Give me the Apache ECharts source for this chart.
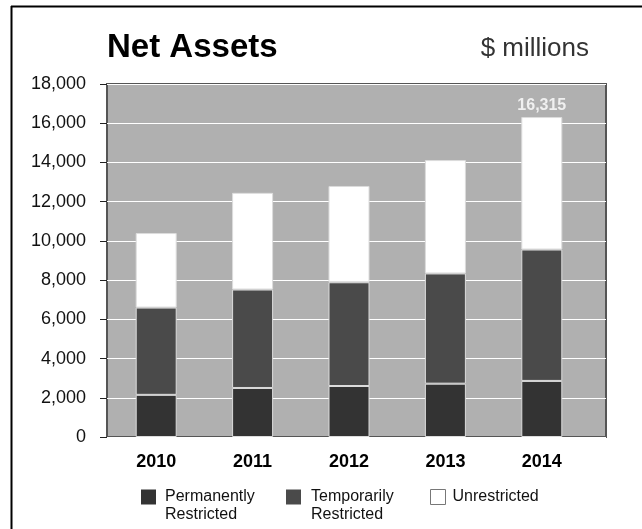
<!DOCTYPE html>
<html>
<head>
<meta charset="utf-8">
<script src="https://cdn.jsdelivr.net/npm/echarts@6/dist/echarts.min.js"></script>
<style>
  html, body { margin: 0; padding: 0; background: #fff; }
  #chart { width: 642px; height: 529px; }
</style>
</head>
<body>
<div id="chart"></div>
<script>
// Net assets by restriction class, $ millions
var years = ['2010', '2011', '2012', '2013', '2014'];
var permanentlyRestricted = [2150, 2500, 2600, 2720, 2860];
var temporarilyRestricted = [4450, 5020, 5290, 5620, 6700];
var unrestricted = [3800, 4930, 4910, 5780, 6755];
var yTicks = [0, 2000, 4000, 6000, 8000, 10000, 12000, 14000, 16000, 18000];
var labelledYear = '2014';

var FONT = '"Liberation Sans", Arial, Helvetica, sans-serif';

function totalFor(i) {
  return permanentlyRestricted[i] + temporarilyRestricted[i] + unrestricted[i];
}
function fmt(v) {
  return v.toString().replace(/\B(?=(\d{3})+(?!\d))/g, ',');
}

var chart = echarts.init(document.getElementById('chart'), null, { renderer: 'canvas' });

var barBorder = { borderColor: '#dcdcdc', borderWidth: 1 };

var legendText = {
  fontFamily: FONT,
  fontSize: 16,
  color: '#111',
  lineHeight: 18
};

// two-line legend names: a leading blank line keeps the first line level with the swatch
function firstLineOnSwatch(name) { return '\n' + name; }

var option = {
  animation: false,
  backgroundColor: '#fff',
  title: [
    {
      text: 'Net Assets',
      left: 107, top: 31, padding: 0,
      textStyle: { fontFamily: FONT, fontSize: 33, fontWeight: 'bold', color: '#000', lineHeight: 33 }
    },
    {
      text: '$ millions',
      right: 53, top: 36, padding: 0,
      textStyle: { fontFamily: FONT, fontSize: 26, fontWeight: 'normal', color: '#333', lineHeight: 26 }
    }
  ],
  graphic: [
    { type: 'line', shape: { x1: 11, y1: 6.5, x2: 642, y2: 6.5 }, style: { stroke: '#000', lineWidth: 2 } },
    { type: 'line', shape: { x1: 11.5, y1: 6, x2: 11.5, y2: 529 }, style: { stroke: '#000', lineWidth: 2 } }
  ],
  grid: [
    { left: 107, top: 84, width: 499, height: 353, show: true, backgroundColor: '#b0b0b0', borderColor: '#555', borderWidth: 2 },
    { left: 108, top: 84, width: 482, height: 353 }
  ],
  xAxis: [
    { type: 'value', gridIndex: 0, show: false, min: 0, max: 1 },
    {
      type: 'category', gridIndex: 1, data: years,
      axisLine: { show: false }, axisTick: { show: false },
      axisLabel: { fontFamily: FONT, fontSize: 18, fontWeight: 'bold', color: '#000', margin: 16 }
    }
  ],
  yAxis: [
    {
      type: 'value', gridIndex: 0, min: 0, max: 18000, interval: 2000,
      offset: 4,
      axisLine: { show: false },
      axisTick: { show: true, length: 7, lineStyle: { color: '#222', width: 1 } },
      axisLabel: {
        fontFamily: FONT, fontSize: 18, color: '#111', margin: 17,
        formatter: function (v) { return yTicks.indexOf(v) >= 0 ? fmt(v) : ''; }
      },
      splitLine: { show: true, lineStyle: { color: '#fff', width: 1 } }
    },
    { type: 'value', gridIndex: 1, min: 0, max: 18000, show: false }
  ],
  legend: [
    {
      left: 141, top: 470, padding: 0, itemWidth: 15, itemHeight: 15, icon: 'rect',
      formatter: firstLineOnSwatch,
      data: [{ name: 'Permanently\nRestricted', itemStyle: { borderWidth: 0 } }],
      textStyle: Object.assign({ padding: [0, 0, 0, 4] }, legendText)
    },
    {
      left: 286, top: 470, padding: 0, itemWidth: 15, itemHeight: 15, icon: 'rect',
      formatter: firstLineOnSwatch,
      data: [{ name: 'Temporarily\nRestricted', itemStyle: { borderWidth: 0 } }],
      textStyle: Object.assign({ padding: [0, 0, 0, 5] }, legendText)
    },
    {
      left: 430, top: 488, padding: 0, itemWidth: 15, itemHeight: 15, icon: 'rect',
      data: [{ name: 'Unrestricted', itemStyle: { borderColor: '#777', borderWidth: 1 } }],
      textStyle: Object.assign({ padding: [0, 0, 0, 2] }, legendText)
    }
  ],
  series: [
    {
      name: 'Permanently\nRestricted', type: 'bar', stack: 'assets',
      xAxisIndex: 1, yAxisIndex: 1, barWidth: 41,
      itemStyle: Object.assign({ color: '#333333' }, barBorder),
      data: permanentlyRestricted
    },
    {
      name: 'Temporarily\nRestricted', type: 'bar', stack: 'assets',
      xAxisIndex: 1, yAxisIndex: 1, barWidth: 41,
      itemStyle: Object.assign({ color: '#4a4a4a' }, barBorder),
      data: temporarilyRestricted
    },
    {
      name: 'Unrestricted', type: 'bar', stack: 'assets',
      xAxisIndex: 1, yAxisIndex: 1, barWidth: 41,
      itemStyle: Object.assign({ color: '#ffffff' }, barBorder),
      label: {
        show: true, position: 'top', distance: 3,
        fontFamily: FONT, fontSize: 16, fontWeight: 'bold', color: '#f0f0f0',
        formatter: function (p) {
          return years[p.dataIndex] === labelledYear ? fmt(totalFor(p.dataIndex)) : '';
        }
      },
      data: unrestricted
    }
  ]
};

chart.setOption(option);
</script>
</body>
</html>
